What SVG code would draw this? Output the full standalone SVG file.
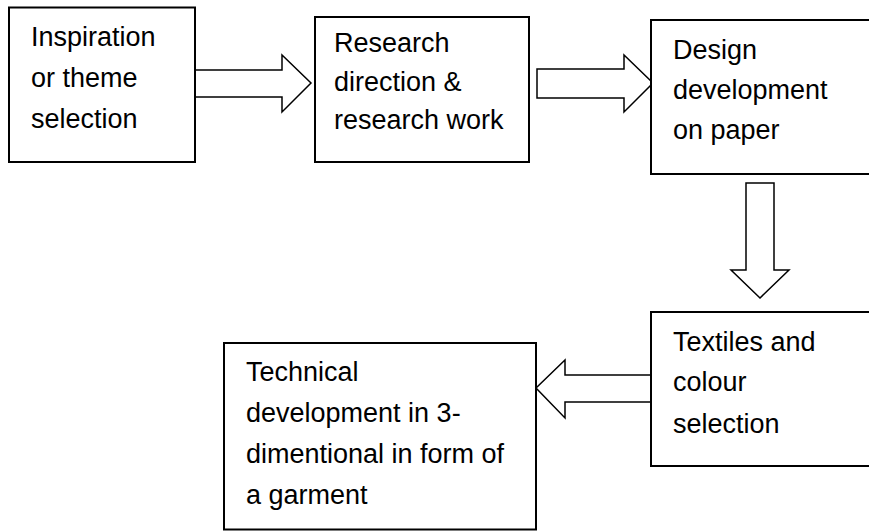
<svg xmlns="http://www.w3.org/2000/svg" width="869" height="531" viewBox="0 0 869 531">
<style>
.box{fill:#fff;stroke:#000;stroke-width:2}
.arr{fill:#fff;stroke:#000;stroke-width:1.5;stroke-linejoin:miter}
.t{font-family:"Liberation Sans",Arial,sans-serif;font-size:27px;fill:#000}
</style>
<rect width="869" height="531" fill="#fff"/>
<g id="connectors">
<polygon class="arr" points="195,70 282,70 282,55 311,83 282,112 282,97 195,97"/>
<polygon class="arr" points="537,69 624,69 624,55 653,83 624,112 624,98 537,98"/>
<polygon class="arr" points="746,183 774,183 774,270 789,270 760,298 731,270 746,270"/>
<polygon class="arr" points="651,375 565,375 565,360 536,388 565,418 565,402 651,402"/>
</g>
<g id="node1">
<rect class="box" x="9" y="7.5" width="186" height="154.5"/>
<text class="t" x="31" y="46">Inspiration</text>
<text class="t" x="31" y="87">or theme</text>
<text class="t" x="31" y="128">selection</text>
</g>
<g id="node2">
<rect class="box" x="315" y="17" width="214" height="145"/>
<text class="t" x="334" y="52">Research</text>
<text class="t" x="334" y="91">direction &amp;</text>
<text class="t" x="334" y="129">research work</text>
</g>
<g id="node3">
<rect class="box" x="651" y="20" width="240" height="154"/>
<text class="t" x="673" y="59">Design</text>
<text class="t" x="673" y="99">development</text>
<text class="t" x="673" y="139">on paper</text>
</g>
<g id="node4">
<rect class="box" x="651" y="312" width="240" height="154"/>
<text class="t" x="673" y="351">Textiles and</text>
<text class="t" x="673" y="391">colour</text>
<text class="t" x="673" y="433">selection</text>
</g>
<g id="node5">
<rect class="box" x="224" y="343" width="312" height="186.5"/>
<text class="t" x="246" y="381">Technical</text>
<text class="t" x="246" y="422">development in 3-</text>
<text class="t" x="246" y="463">dimentional in form of</text>
<text class="t" x="246" y="504">a garment</text>
</g>
</svg>
